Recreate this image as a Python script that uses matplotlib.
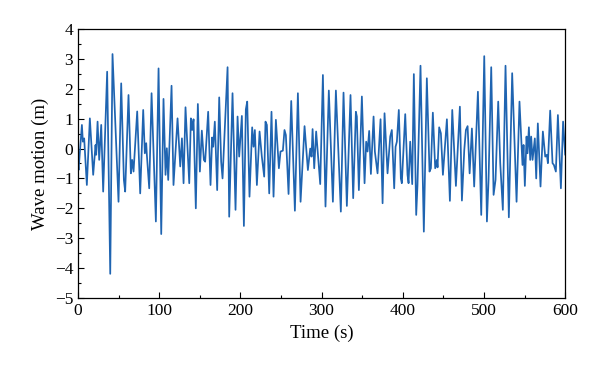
import matplotlib.pyplot as plt
from matplotlib.ticker import MultipleLocator

# peaks/troughs (time in s, wave elevation in m)
time_s = [
    0.0, 0.7, 4.8, 6.0, 7.6, 10.9, 14.6, 18.7, 21.6, 22.4, 24.1, 26.1, 28.6, 31.0,
    35.9, 39.7, 42.5, 49.9, 53.2, 56.5, 58.1, 62.2, 65.1, 66.7, 68.4, 72.9, 76.6,
    80.3, 82.3, 84.0, 84.8, 87.7, 90.6, 95.9, 99.2,
    102.5, 105.3, 107.8, 109.4, 111.1, 115.2, 117.6, 122.6, 125.9, 128.0, 130.0,
    132.4, 137.0, 139.0, 140.6, 142.3, 145.1, 147.6, 150.1, 152.5, 155.0, 156.6,
    160.3, 163.2, 165.2, 166.5, 168.5, 171.4, 173.9, 176.3, 178.0, 184.2, 186.2,
    190.3, 194.0,
    196.5, 198.5, 201.8, 204.3, 206.7, 208.4, 211.2, 214.5, 216.2, 217.8, 220.3,
    223.6, 226.4, 229.3, 230.9, 232.6, 235.5, 238.3, 240.8, 243.7, 247.4, 249.4,
    252.3, 254.3, 256.0, 259.3, 262.6, 267.1, 270.8, 274.1, 279.0, 283.1, 286.0,
    287.6, 288.9,
    290.9, 293.3, 295.4, 298.3, 301.6, 304.8, 308.9, 313.9, 317.6, 320.8, 323.7,
    327.0, 331.1, 335.6, 338.9, 342.2, 343.4, 345.9, 349.6, 352.9, 354.9, 356.6,
    358.6, 360.7, 364.0, 365.6, 368.9, 372.6, 375.1, 377.5, 381.2, 384.5, 386.5,
    389.4, 391.1, 392.7, 395.1, 397.6, 398.8, 403.0, 405.8, 407.1, 409.1, 411.6,
    413.6, 416.5, 418.1, 421.8, 425.9, 429.6, 432.9, 434.6, 437.0, 439.9, 442.0,
    442.8, 444.8, 446.9, 449.4, 454.3, 458.0, 460.9, 465.4, 470.3, 472.8, 475.7,
    477.7, 479.8, 482.3, 485.1,
    487.9, 492.5, 496.6, 500.3, 503.6, 505.6, 508.9, 511.8, 514.2, 517.5, 520.0,
    523.2, 526.5, 530.6, 534.7, 540.1, 543.7, 547.4, 548.7, 550.3, 552.4, 553.6,
    555.3, 556.9, 558.1, 559.8, 562.6, 564.3, 566.3, 569.6, 572.5, 575.4, 577.4,
    578.7, 581.5, 584.4, 586.1, 588.5, 591.0, 594.7, 597.4, 600.0,
]
wave_m = [
    -0.50, -0.72, 0.79, 0.23, 0.34, -1.22, 1.01, -0.88, 0.12, -0.21, 0.90, -0.38, 0.79, -1.44,
    2.57, -4.19, 3.16, -1.78, 2.18, -1.05, -1.44, 1.79, -0.83, -0.38, -0.77, 1.24, -1.50,
    1.29, -0.16, 0.18, -0.21, -1.33, 1.85, -2.44, 2.68,
    -2.86, 1.66, -0.88, 0.01, -1.05, 2.10, -1.22, 1.01, -0.60, 0.34, -1.16,
    1.38, -1.16, 1.01, 0.62, 0.98, -2.00, 1.49, -0.77, 0.60, -0.38, -0.44,
    1.23, -1.22, 0.37, 0.06, 0.90, -1.39, 1.71, -0.44, -1.00, 2.72, -2.28,
    1.85, -2.05,
    1.07, -0.27, 1.09, -2.59, 1.31, 1.57, -1.61, 0.71, 0.06, 0.62, -1.22,
    0.57, -0.27, -0.94, 0.90, 0.79, -1.50, 1.23, -1.61, 0.96, -0.66, -0.10,
    -0.07, 0.62, 0.45, -1.52, 1.59, -2.08, 1.85, -1.78, 0.75, -0.72, 0.00,
    -0.27, 0.65,
    -0.66, 0.57, -0.16, -1.19, 2.46, -1.94, 1.94, -1.78, 1.94, -0.16, -2.11,
    1.87, -1.92, 1.79, -1.66, 1.23, 1.07, -1.39, 1.74, -1.16, 0.23, -0.10,
    0.59, -0.85, 1.07, -0.10, -0.83, 0.98, -1.83, 1.18, -0.83, 0.40, 0.62,
    -1.33, 0.06, 0.23, 1.29, -1.00, -1.16, 1.15, -0.88, -1.16, 0.23, -1.19,
    2.49, -2.22, -1.22, 2.77, -2.78, 2.35, -0.77, -0.66, 1.20, -0.66, -0.38,
    -0.63, 0.71, 0.51, -0.88, 0.98, -1.75, 1.29, -1.25, 1.40, -1.74, -0.05,
    0.62, 0.75, -0.83, 0.67,
    -1.27, 1.90, -2.22, 3.09, -2.44, -1.05, 2.72, -1.55, -1.05, 1.57, -0.49,
    -2.05, 2.77, -2.30, 2.52, -1.78, 1.57, -0.55, 0.12, -1.25, 0.40, -0.16,
    0.71, -0.38, 0.40, -0.38, 0.34, -1.00, 0.84, -1.27, 0.57, -0.27, -0.21,
    -0.49, 1.27, -0.49, -0.55, -0.77, 1.12, -1.33, 0.90, -0.20,
]

plt.rcParams['font.family'] = ['Liberation Serif', 'DejaVu Serif']

fig = plt.figure(figsize=(6, 3.76), dpi=100)
ax = fig.add_axes([0.13, 0.2074, 0.812, 0.7156])
ax.plot(time_s, wave_m, color='#1f64b1', linewidth=1.25, solid_joinstyle='round')

ax.set_xlim(0, 600)
ax.set_ylim(-5, 4)
ax.xaxis.set_major_locator(MultipleLocator(100))
ax.xaxis.set_minor_locator(MultipleLocator(50))
ax.yaxis.set_major_locator(MultipleLocator(1))
ax.yaxis.set_minor_locator(MultipleLocator(0.5))
ax.tick_params(which='both', direction='in', top=False, right=False, labelsize=12.5)
ax.tick_params(which='major', length=4, width=0.8)
ax.tick_params(which='minor', length=2.5, width=0.8)
for s in ax.spines.values():
    s.set_linewidth(0.9)

ax.set_xlabel('Time (s)', fontsize=13.5)
ax.set_ylabel('Wave motion (m)', fontsize=13.5)

fig.savefig('out.png', dpi=100)
